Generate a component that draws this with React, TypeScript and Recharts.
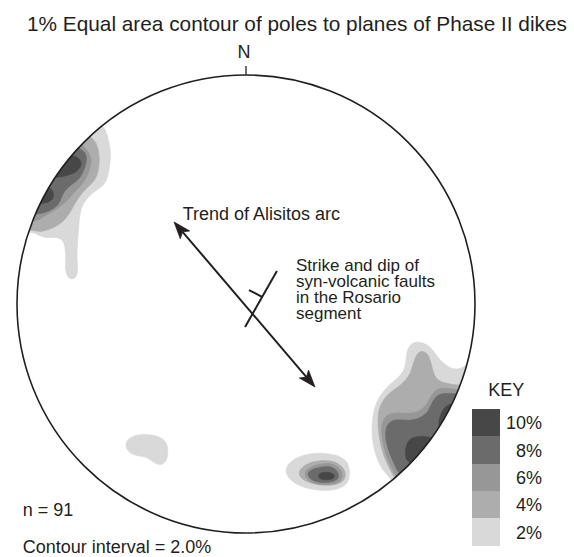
import React from 'react';
import { ScatterChart, Scatter, XAxis, YAxis } from 'recharts';

type Pt = [number, number];

// Stereonet coordinates: primitive circle radius = 100, origin at centre, +y = North.
// ---- North-west cluster (contour polygons; parts beyond the primitive are masked) ----
const nw2: Pt[] = [[-63.8,78.2],[-61.6,76.9],[-60.3,72.9],[-59.4,68.6],[-59.0,64.2],[-59.8,58.5],[-60.7,54.1],[-62.9,51.1],[-67.2,48.5],[-71.2,44.1],[-72.5,39.7],[-72.9,35.4],[-73.4,29.3],[-73.8,23.6],[-73.8,19.2],[-73.4,15.7],[-73.8,11.8],[-76.0,10.5],[-78.2,11.8],[-79.0,16.2],[-78.6,20.5],[-79.0,24.9],[-79.9,27.9],[-82.5,29.3],[-86.5,28.8],[-89.1,29.3],[-92.1,31.0],[-95.2,31.4],[-104,30],[-104,60],[-85,85],[-62,92]];
const nw4: Pt[] = [[-69.0,73.4],[-65.9,71.6],[-64.6,68.1],[-63.8,62.9],[-64.6,57.6],[-65.9,54.1],[-69.0,51.1],[-71.6,48.5],[-74.7,44.1],[-76.9,39.7],[-79.9,35.8],[-83.4,33.6],[-86.9,32.3],[-90.0,31.4],[-93.0,32.3],[-104,33],[-100,70],[-74,86]];
const nw6: Pt[] = [[-72.5,70.3],[-69.0,67.2],[-67.2,62.9],[-68.1,59.4],[-69.4,55.5],[-71.6,52.0],[-74.7,49.3],[-77.7,45.4],[-81.2,42.4],[-85.6,39.7],[-89.1,37.6],[-93.0,35.4],[-104,36],[-100,68],[-78,82]];
const nw8: Pt[] = [[-76.0,69.4],[-70.7,67.2],[-69.4,64.2],[-69.9,60.7],[-71.2,57.6],[-72.5,55.0],[-75.1,52.8],[-78.2,50.7],[-80.3,47.6],[-81.2,44.5],[-83.4,41.9],[-86.9,40.2],[-90.8,38.9],[-104,40],[-92,72]];
const nw10a: Pt[] = [[-81.2,67.2],[-76.9,65.1],[-72.5,63.8],[-71.6,60.7],[-73.4,58.5],[-74.7,57.2],[-77.7,56.3],[-80.3,55.5],[-85.6,55.0],[-87.8,62.9]];
const nw10b: Pt[] = [[-87.8,52.0],[-86.5,51.1],[-84.3,49.8],[-83.8,46.7],[-85.6,44.5],[-88.6,44.1],[-92.1,43.2],[-100,45],[-95,55]];

// ---- South-east cluster ----
const se2: Pt[] = [[96.1,-27.5],[92.1,-28.8],[87.8,-27.5],[83.4,-23.1],[80.3,-17.9],[74.7,-16.2],[71.6,-17.5],[69.9,-21.4],[69.9,-27.1],[67.7,-31.0],[65.1,-33.2],[61.1,-36.7],[58.1,-40.6],[55.9,-45.4],[55.0,-52.0],[55.0,-59.4],[56.8,-66.8],[59.4,-72.5],[63.3,-76.0],[66,-82],[105,-60],[110,-25],[104,-18]];
const se4: Pt[] = [[93.9,-35.8],[89.1,-34.9],[84.7,-34.1],[82.1,-31.4],[80.8,-25.8],[79.5,-21.4],[76.0,-20.1],[73.8,-23.1],[72.5,-28.4],[70.7,-32.3],[67.2,-35.8],[62.9,-38.4],[59.4,-42.4],[57.6,-47.2],[57.6,-53.7],[58.5,-60.7],[60.7,-68.1],[64.6,-75.5],[68,-82],[105,-60],[108,-34]];
const se6: Pt[] = [[93.0,-37.6],[88.2,-36.7],[83.8,-36.7],[80.8,-39.7],[79.0,-44.1],[75.5,-47.2],[70.3,-48.0],[65.1,-47.2],[61.1,-48.5],[59.0,-52.4],[59.4,-59.4],[61.1,-65.9],[63.3,-71.2],[65.5,-75.1],[70,-82],[105,-60],[106,-38]];
const se8: Pt[] = [[92.6,-39.3],[87.8,-38.9],[83.8,-39.3],[81.2,-42.8],[79.9,-46.7],[76.4,-49.8],[71.2,-51.1],[65.9,-50.2],[62.4,-51.5],[60.7,-55.0],[61.1,-60.3],[62.9,-65.9],[65.1,-70.7],[66.8,-74.2],[72,-80],[105,-58],[105,-40]];
const se10a: Pt[] = [[90.0,-43.2],[87.3,-44.5],[85.2,-47.2],[84.3,-50.7],[83.8,-54.1],[92,-58],[100,-44]];
const se10b: Pt[] = [[81.2,-58.1],[76.0,-57.6],[71.6,-58.5],[69.9,-61.6],[69.4,-65.9],[70.3,-69.0],[76,-72],[92,-62]];

// ---- South cluster ----
const s2: Pt[] = [[17.0,-73.8],[17.9,-70.3],[20.5,-68.1],[23.6,-66.4],[29.3,-65.1],[34.5,-65.1],[39.3,-65.9],[43.2,-67.7],[45.0,-70.7],[45.4,-74.7],[44.5,-78.2],[41.9,-80.3],[36.7,-81.7],[30.1,-81.2],[24.5,-79.9],[20.1,-77.7]];
const s4: Pt[] = [[22.7,-73.4],[24.9,-70.7],[29.3,-68.6],[36.7,-68.1],[41.0,-69.9],[43.2,-72.5],[43.7,-76.0],[41.0,-78.6],[35.4,-79.5],[28.8,-78.6],[24.0,-76.4]];
const s6: Pt[] = [[24.9,-74.2],[27.5,-71.2],[31.9,-69.9],[37.1,-69.4],[40.6,-71.2],[42.4,-74.2],[41.5,-77.3],[39.3,-78.6],[33.6,-79.0],[27.9,-78.2]];
const s8: Pt[] = [[26.2,-74.2],[28.8,-72.1],[32.3,-71.2],[36.7,-70.7],[39.7,-72.5],[41.0,-75.5],[38.9,-77.7],[33.6,-78.2],[28.8,-77.3]];
const s10: Pt[] = [[31.4,-74.7],[33.2,-73.4],[36.7,-73.4],[38.9,-74.7],[38.4,-76.4],[34.9,-76.9],[31.9,-76.4]];

// ---- South-west isolated 2% patch ----
const sw2: Pt[] = [[-52.8,-62.0],[-52.0,-59.4],[-49.3,-57.6],[-45.0,-56.8],[-39.7,-57.2],[-35.8,-59.0],[-34.1,-62.0],[-34.1,-65.9],[-34.9,-69.0],[-37.6,-70.7],[-40.6,-69.0],[-43.2,-66.8],[-47.2,-66.4],[-51.1,-65.1]];

// ---- Annotations (net coordinates) ----
const arcTrendShaft: Pt[] = [[-27.7,31.5],[26.4,-31.9]];
const arcTrendHeadNW: Pt[] = [[-31.4,35.8],[-24.6,31.9],[-27.7,31.5],[-28.7,28.5]];
const arcTrendHeadSE: Pt[] = [[30.1,-36.2],[27.3,-28.9],[26.4,-31.9],[23.3,-32.3]];
const faultStrike: Pt[] = [[13.5,14.4],[-0.4,-10.0]];
const faultDip: Pt[] = [[7.0,3.1],[1.3,6.1]];
const netCentre: Pt[] = [[0, 0]];

const contourLevels = [2, 4, 6, 8, 10];
const keyLabels = ['10%', '8%', '6%', '4%', '2%'];
const faultNote = ['Strike and dip of', 'syn-volcanic faults', 'in the Rosario', 'segment'];
const levelPolygons: Record<number, Pt[][]> = {
  2: [nw2, se2, s2, sw2],
  4: [nw4, se4, s4],
  6: [nw6, se6, s6],
  8: [nw8, se8, s8],
  10: [nw10a, nw10b, se10a, se10b, s10],
};

const levelColor: Record<number, string> = {
  2: '#d9d9d9',
  4: '#adadad',
  6: '#979797',
  8: '#6b6b6b',
  10: '#474747',
};

const INK = '#231f20';
const FONT = '"Liberation Sans", Arial, Helvetica, sans-serif';

const W = 574;
const H = 557;
const X_DOMAIN: [number, number] = [-105, 140];
const Y_DOMAIN: [number, number] = [-110, 130];
const MARGIN = { top: 6.3, right: 7.4, bottom: 1.1, left: 5.55 };
const PX_PER_UNIT = (W - MARGIN.left - MARGIN.right) / (X_DOMAIN[1] - X_DOMAIN[0]);
const NET_R_PX = 100 * PX_PER_UNIT;

const toXY = (pts: Pt[]) => pts.map(([x, y]) => ({ x, y }));

const NoDot = () => <g />;

const RimShape = (props: any) => {
  const { cx, cy } = props;
  return (
    <g>
      <circle cx={cx} cy={cy} r={NET_R_PX + 60} fill="none" stroke="#ffffff" strokeWidth={120} />
      <circle cx={cx} cy={cy} r={NET_R_PX} fill="none" stroke={INK} strokeWidth={1.6} />
      <line x1={cx} y1={cy - NET_R_PX} x2={cx} y2={cy - NET_R_PX - 9} stroke={INK} strokeWidth={1.3} />
    </g>
  );
};

const Label = ({ x, base, size = 18, lh, children, anchor = 'left', multi = false }: any) => {
  const lineH = lh ?? size;
  const baseOffset = (lineH - 1.117 * size) / 2 + 0.905 * size;
  const style: React.CSSProperties = {
    position: 'absolute',
    top: base - baseOffset,
    fontSize: size,
    lineHeight: `${lineH}px`,
    fontFamily: FONT,
    color: INK,
    whiteSpace: multi ? 'pre' : 'nowrap',
  };
  if (anchor === 'left') style.left = x;
  if (anchor === 'right') style.right = W - x;
  if (anchor === 'middle') { style.left = x; style.transform = 'translateX(-50%)'; }
  return <div style={style}>{children}</div>;
};

export default function App() {
  const swatchTop = 409;
  const swatchH = 27.35;
  return (
    <div style={{ position: 'absolute', left: 0, top: 0, width: W, height: H, background: '#fff', overflow: 'hidden' }}>
      <ScatterChart width={W} height={H} margin={MARGIN}>
        <XAxis type="number" dataKey="x" domain={X_DOMAIN} allowDataOverflow hide />
        <YAxis type="number" dataKey="y" domain={Y_DOMAIN} allowDataOverflow hide />
        {contourLevels.map((lv) =>
          levelPolygons[lv].map((poly, i) => (
            <Scatter
              key={`c${lv}-${i}`}
              data={toXY(poly)}
              fill={levelColor[lv]}
              line={{ fill: levelColor[lv], stroke: levelColor[lv], strokeWidth: 0.6 }}
              lineType="joint"
              lineJointType="basisClosed"
              shape={NoDot}
              isAnimationActive={false}
            />
          ))
        )}
        <Scatter data={toXY(netCentre)} shape={RimShape} isAnimationActive={false} />
        <Scatter data={toXY(arcTrendShaft)} line={{ stroke: INK, strokeWidth: 2 }} lineJointType="linear" shape={NoDot} isAnimationActive={false} />
        <Scatter data={toXY(arcTrendHeadNW)} line={{ fill: INK, stroke: INK, strokeWidth: 0.8 }} lineJointType="linearClosed" shape={NoDot} isAnimationActive={false} />
        <Scatter data={toXY(arcTrendHeadSE)} line={{ fill: INK, stroke: INK, strokeWidth: 0.8 }} lineJointType="linearClosed" shape={NoDot} isAnimationActive={false} />
        <Scatter data={toXY(faultStrike)} line={{ stroke: INK, strokeWidth: 2 }} lineJointType="linear" shape={NoDot} isAnimationActive={false} />
        <Scatter data={toXY(faultDip)} line={{ stroke: INK, strokeWidth: 2 }} lineJointType="linear" shape={NoDot} isAnimationActive={false} />
      </ScatterChart>

      <Label x={27} base={31} size={20.8} lh={22}>1% Equal area contour of poles to planes of Phase II dikes</Label>
      <Label x={244} base={58.3} size={18} anchor="middle">N</Label>
      <Label x={182.7} base={220} size={18}>Trend of Alisitos arc</Label>
      <Label x={296} base={272.3} size={17} lh={15.9} multi>{faultNote.join('\n')}</Label>
      <Label x={488.3} base={396.7} size={18}>KEY</Label>
      {keyLabels.map((lab, i) => (
        <React.Fragment key={lab}>
          <div
            style={{
              position: 'absolute',
              left: 472,
              top: swatchTop + i * swatchH,
              width: 28,
              height: swatchH + 0.4,
              background: levelColor[contourLevels[contourLevels.length - 1 - i]],
            }}
          />
          <Label x={542} base={swatchTop + i * swatchH + swatchH / 2 + 7} size={18} anchor="right">{lab}</Label>
        </React.Fragment>
      ))}
      <Label x={22.7} base={516.7} size={18}>n = 91</Label>
      <Label x={22.7} base={553} size={18} lh={16}>Contour interval = 2.0%</Label>
    </div>
  );
}
